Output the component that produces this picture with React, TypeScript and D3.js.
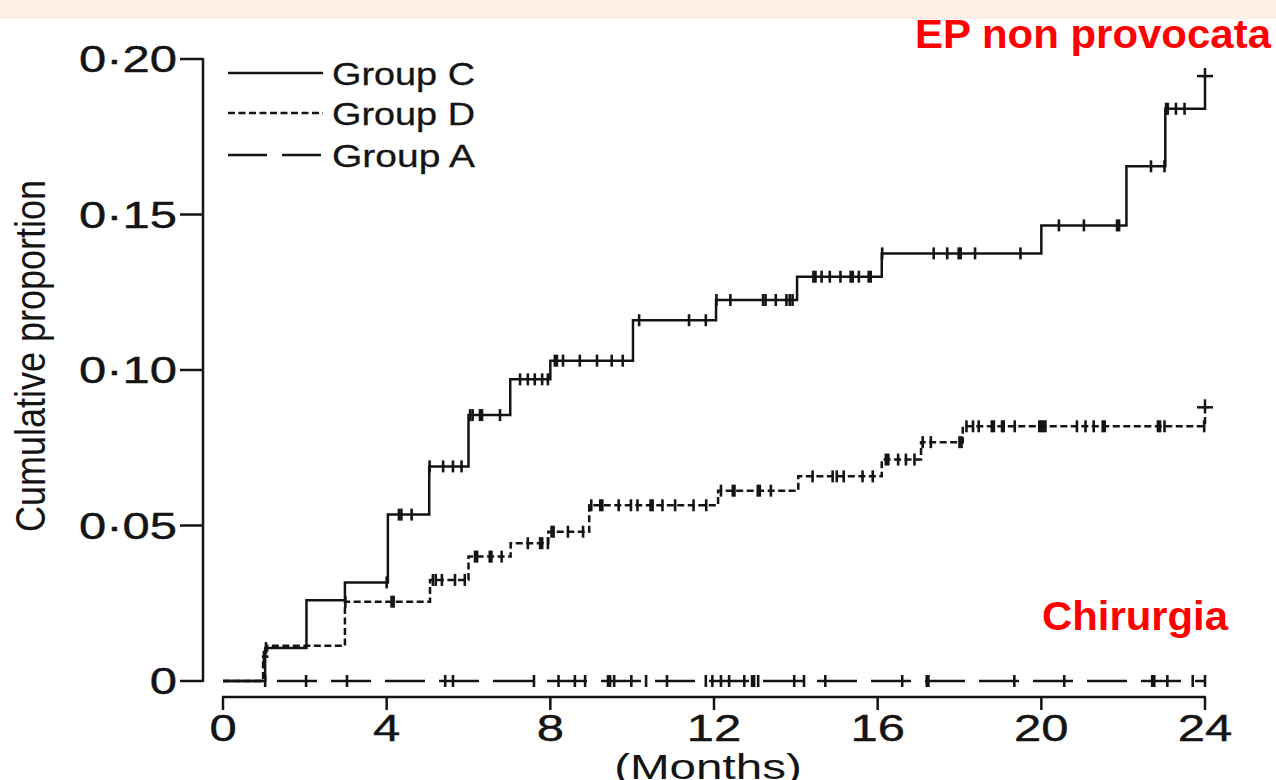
import React from 'react';
import * as d3 from 'd3';

// axis ticks
const monthTicks = [0, 4, 8, 12, 16, 20, 24];
const propTicks = [0, 0.05, 0.1, 0.15, 0.2];
const propLabels = ['0', '0·05', '0·10', '0·15', '0·20'];

// step curves: [months, cumulative proportion]
const groupCSteps: [number, number][] = [
  [0, 0], [1.03, 0.0106], [2.04, 0.026], [2.98, 0.0317], [4.03, 0.0535],
  [5.04, 0.069], [6.0, 0.0855], [7.02, 0.097], [8.0, 0.103], [10.02, 0.116],
  [12.05, 0.1225], [14.03, 0.13], [16.1, 0.1375], [20.0, 0.1465],
  [22.08, 0.1655], [23.03, 0.184], [24.0, 0.1945]
];
const groupCCensor = [
  1.05, 4.0, 4.3, 4.36, 4.61, 5.05, 5.38, 5.62, 5.83, 6.04, 6.1, 6.28, 6.33, 6.77,
  7.26, 7.45, 7.62, 7.8, 7.94, 8.11, 8.16, 8.31, 8.72, 9.14, 9.5, 9.77,
  10.17, 11.39, 11.8, 12.06, 12.4, 13.2, 13.26, 13.51, 13.77, 13.85, 13.92,
  14.43, 14.48, 14.63, 14.83, 15.09, 15.34, 15.39, 15.54, 15.78, 15.83,
  16.11, 17.37, 17.7, 17.98, 18.03, 18.38, 19.49, 20.43, 21.04, 21.85, 21.9,
  22.68, 23.01, 23.05, 23.09, 23.29, 23.5
];

const groupDSteps: [number, number][] = [
  [0, 0], [0.98, 0.0078], [1.08, 0.0113], [2.98, 0.0255], [5.06, 0.0325],
  [6.0, 0.04], [7.03, 0.0443], [7.95, 0.048], [8.95, 0.0565], [12.1, 0.0612],
  [14.06, 0.0658], [16.1, 0.0712], [17.06, 0.0768], [18.08, 0.0819], [24.0, 0.088]
];
const groupDCensor = [
  1.0, 2.99, 4.12, 4.17, 5.13, 5.2, 5.35, 5.67, 5.91, 6.16, 6.21, 6.52, 6.56, 6.81,
  7.45, 7.75, 7.8, 7.94, 8.03, 8.08, 8.43, 8.8, 9.0, 9.22, 9.27, 9.67, 9.97,
  10.13, 10.45, 10.5, 10.74, 11.05, 11.5, 11.81, 12.17, 12.46, 12.5, 13.07,
  13.12, 13.39, 14.41, 14.9, 15.0, 15.17, 15.63, 15.88, 16.2, 16.26, 16.5,
  16.69, 16.9, 17.1, 17.3, 18.0, 18.05, 18.17, 18.33, 18.47, 18.79, 18.84,
  19.04, 19.08, 19.35, 19.95, 20.0, 20.05, 20.1, 20.87, 21.08, 21.28, 21.5,
  21.55, 22.85, 22.9, 23.01, 23.98
];

const groupASteps: [number, number][] = [[0, 0], [24, 0]];
const groupACensor = [
  1.03, 2.03, 3.03, 5.43, 5.62, 7.6, 8.2, 8.6, 8.85, 9.41, 9.46, 9.56, 9.98,
  10.34, 10.85, 11.8, 11.96, 12.17, 12.37, 12.74, 12.93, 12.98, 13.08, 13.96,
  14.2, 14.72, 16.6, 17.2, 17.24, 19.34, 20.56, 22.71, 22.76, 23.08, 23.7, 24.0
];

const groups = [
  { name: 'Group C', steps: groupCSteps, censor: groupCCensor, dash: 'none', endCross: true },
  { name: 'Group D', steps: groupDSteps, censor: groupDCensor, dash: '7 3.5', endCross: true },
  { name: 'Group A', steps: groupASteps, censor: groupACensor, dash: '40 14', endCross: false }
];

const W = 1276;
const H = 780;
const ink = '#141414';
const font = '"Liberation Sans", Arial, sans-serif';

const x = d3.scaleLinear().domain([0, 24]).range([223, 1205]);
const y = d3.scaleLinear().domain([0, 0.2]).range([681, 59]);

const stepValue = (steps: [number, number][], t: number) => {
  let v = steps[0][1];
  for (const s of steps) if (s[0] <= t) v = s[1];
  return v;
};

const line = d3.line<[number, number]>()
  .x(d => x(d[0]))
  .y(d => y(d[1]))
  .curve(d3.curveStepAfter);

export default function App() {
  const axisY = 697;
  const yAxisX = 203;
  return (
    <svg width={W} height={H} style={{ position: 'absolute', left: 0, top: 0, background: '#fff' }}>
      <rect x={0} y={0} width={W} height={19} fill="#fcefe6" />

      {/* y axis */}
      <line x1={yAxisX} x2={yAxisX} y1={y(0.2) - 1} y2={y(0) + 1} stroke={ink} strokeWidth={2.5} />
      {propTicks.map((t, i) => (
        <g key={t}>
          <line x1={180} x2={yAxisX} y1={y(t)} y2={y(t)} stroke={ink} strokeWidth={2.5} />
          <text transform={`translate(177,${y(t) + 13}) scale(1.36,1)`} textAnchor="end"
            fontFamily={font} fontSize={36} fill={ink} stroke={ink} strokeWidth={0.4}>{propLabels[i]}</text>
        </g>
      ))}
      <text transform="translate(45,356) scale(1.25,1) rotate(-90)" textAnchor="middle"
        fontFamily={font} fontSize={34} fill={ink} textLength={352} lengthAdjust="spacingAndGlyphs">
        Cumulative proportion
      </text>

      {/* x axis */}
      <line x1={x(0) - 1} x2={x(24) + 1} y1={axisY} y2={axisY} stroke={ink} strokeWidth={2.5} />
      {monthTicks.map(t => (
        <g key={t}>
          <line x1={x(t)} x2={x(t)} y1={axisY} y2={axisY + 13} stroke={ink} strokeWidth={2.5} />
          <text transform={`translate(${x(t)},741) scale(1.36,1)`} textAnchor="middle"
            fontFamily={font} fontSize={36} fill={ink} stroke={ink} strokeWidth={0.4}>{t}</text>
        </g>
      ))}
      <text transform={`translate(${x(12) - 6},779) scale(1.36,1)`} textAnchor="middle"
        fontFamily={font} fontSize={35} fill={ink}>(Months)</text>

      {/* curves */}
      {groups.map(g => {
        const last = g.steps[g.steps.length - 1];
        return (
          <g key={g.name}>
            <path d={line(g.steps) || ''} fill="none" stroke={ink} strokeWidth={2.5}
              strokeDasharray={g.dash} />
            {g.censor.map((t, i) => {
              const v = stepValue(g.steps, t);
              return (
                <line key={i} x1={x(t)} x2={x(t)} y1={y(v) - 6} y2={y(v) + 6}
                  stroke={ink} strokeWidth={2.6} />
              );
            })}
            {g.endCross && (
              <g>
                <line x1={x(last[0]) - 8} x2={x(last[0]) + 8} y1={y(last[1])} y2={y(last[1])}
                  stroke={ink} strokeWidth={2.5} />
                <line x1={x(last[0])} x2={x(last[0])} y1={y(last[1]) - 8} y2={y(last[1]) + 2}
                  stroke={ink} strokeWidth={2.5} />
              </g>
            )}
          </g>
        );
      })}

      {/* legend */}
      {groups.map((g, i) => {
        const ly = [73, 113, 155][i];
        return (
          <g key={g.name}>
            <line x1={228} x2={323} y1={ly} y2={ly} stroke={ink} strokeWidth={2.4}
              strokeDasharray={g.dash === '40 14' ? '39 15' : g.dash} />
            <text x={332} y={ly + 12} fontFamily={font} fontSize={31} fill={ink}
              stroke={ink} strokeWidth={0.3}
              textLength={143} lengthAdjust="spacingAndGlyphs">{g.name}</text>
          </g>
        );
      })}

      {/* annotations */}
      <text x={915} y={48} fontFamily={font} fontWeight="bold" fontSize={41} fill="#ff0000"
        textLength={356} lengthAdjust="spacingAndGlyphs">EP non provocata</text>
      <text x={1042} y={630} fontFamily={font} fontWeight="bold" fontSize={41} fill="#ff0000"
        textLength={186} lengthAdjust="spacingAndGlyphs">Chirurgia</text>
    </svg>
  );
}
